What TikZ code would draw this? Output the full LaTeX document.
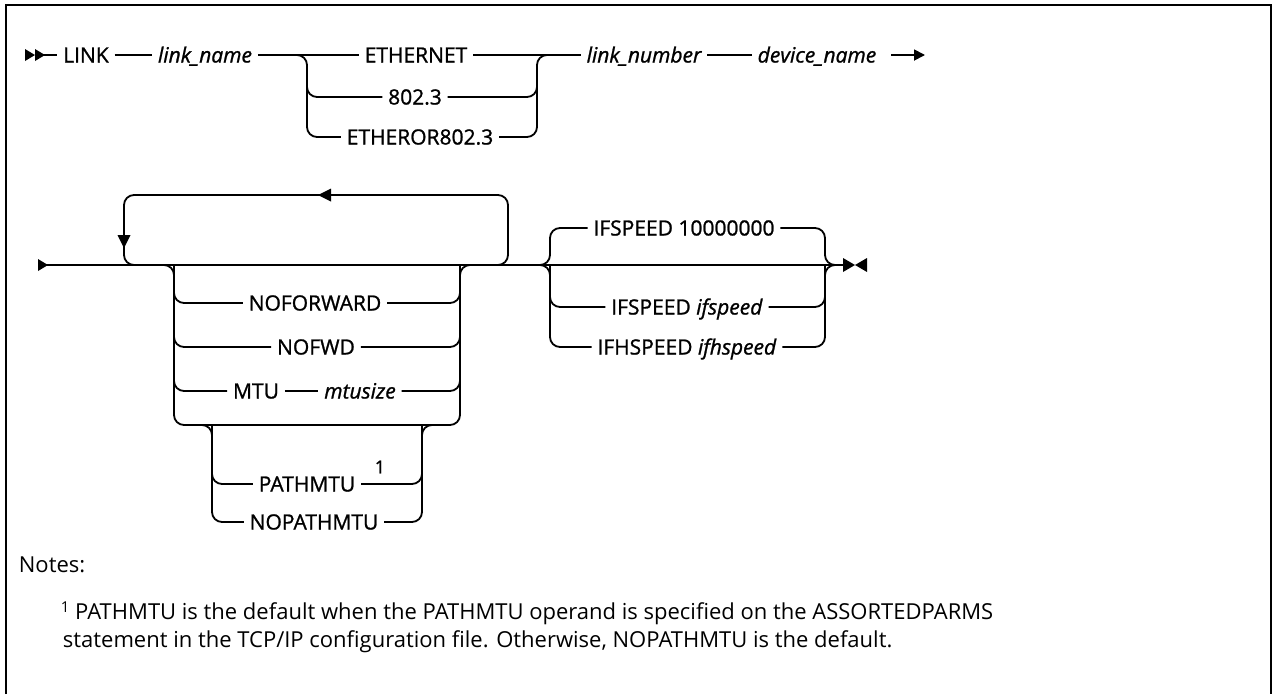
\documentclass[tikz,border=0pt]{standalone}
\usepackage{fontspec}
\setmainfont{Open Sans}
\newfontfamily\lblfont{Open Sans}[FakeBold=1.1]
\usetikzlibrary{calc,arrows.meta}
\begin{document}
\begin{tikzpicture}[x=1pt,y=-1pt,line width=1.8pt,
  lbl/.style={font=\lblfont\fontsize{21}{25}\selectfont,inner xsep=5pt,inner ysep=0pt,text height=15pt,text depth=0pt},
  it/.style={font=\lblfont\fontsize{21}{25}\selectfont\itshape},
  rc/.style={rounded corners=10pt},
  notetext/.style={font=\fontsize{22}{28}\selectfont,inner sep=0pt,anchor=base west}]
\useasboundingbox (0,0) rectangle (1273,694);
% frame
\draw[line width=2.2pt] (6,694) -- (6,5) -- (1271,5) -- (1271,694);

% ---------- row 1 ----------
\coordinate (r1s) at (25,55);
\coordinate (r1e) at (925,55);
\coordinate (b1L) at (307,55);
\coordinate (b1R) at (537,55);
\node[lbl] (link) at (86,55) {LINK};
\node[lbl,it] (lname) at (205,55) {link\_name};
\node[lbl] (eth) at (416,55) {ETHERNET};
\node[lbl] (e8023) at (415,97) {802.3};
\node[lbl] (eor) at (420,137) {ETHEROR802.3};
\node[lbl,it] (lnum) at (644,55) {link\_number};
\node[lbl,it] (dname) at (817,55) {device\_name};

\fill ($(r1s)+(0,-6)$) -- ($(r1s)+(10,0)$) -- ($(r1s)+(0,6)$) -- cycle;
\fill ($(r1s)+(10,-6)$) -- ($(r1s)+(20,0)$) -- ($(r1s)+(10,6)$) -- cycle;
\draw ($(r1s)+(18,0)$) -- (link.west);
\draw (link.east) -- (lname.west);
\draw (lname.east) -- (eth.west);
\draw (eth.east) -- (lnum.west);
\draw (lnum.east) -- (dname.west);
\draw[rc] ($(b1L)+(-10,0)$) -| (eor.west -| b1L) -- (eor.west);
\draw[rc] ($(e8023.west -| b1L)+(0,-20)$) |- (e8023.west);
\draw[rc] (eor.east) -| (b1R) -- ($(b1R)+(10,0)$);
\draw[rc] (e8023.east) -| ($(b1R)+(0,20)$);
\draw[-{Triangle[length=11pt,width=11pt]}] ($(dname.east)+(9,0)$) -- (r1e);

% ---------- row 2 ----------
\coordinate (r2s) at (38,265);
\coordinate (r2e) at (843,265);
\coordinate (oL) at (174,265);
\coordinate (oR) at (460,265);
\coordinate (oBL) at (174,425);
\coordinate (pL) at (212,425);
\coordinate (pR) at (422,425);
\coordinate (iL) at (550,265);
\coordinate (iR) at (825,265);

\fill ($(r2s)+(0,-6)$) -- ($(r2s)+(10,0)$) -- ($(r2s)+(0,6)$) -- cycle;
\draw ($(r2s)+(8,0)$) -- (r2e);
% end marker
\fill (r2e) ++(0,-7) -- ++(12,7) -- ++(-12,7) -- cycle;
\fill ($(r2e)+(24,-7)$) -- ($(r2e)+(12,0)$) -- ($(r2e)+(24,7)$) -- cycle;

% repeat loop
\draw[rc] (134,265) -| (124,195) -| (508,265) -- (498,265);
\fill (318,195) -- (331,188.5) -- (331,201.5) -- cycle;
\fill (124,248) -- (117.5,235) -- (130.5,235) -- cycle;

% options
\node[lbl] (nofwdA) at (315,303) {NOFORWARD};
\node[lbl] (nofwd) at (316,347) {NOFWD};
\node[lbl] (mtu) at (256,391) {MTU};
\node[lbl,it] (mtusize) at (360,391) {mtusize};
\draw[rc] ($(oL)+(-10,0)$) -| (oBL) -| (oR) -- ($(oR)+(10,0)$);
\draw[rc] (oL) |- (nofwdA.west);
\draw[rc] (nofwdA.east) -| (oR);
\draw[rc] (oL) |- (nofwd.west);
\draw[rc] (nofwd.east) -| (oR);
\draw[rc] (oL) |- (mtu.west);
\draw (mtu.east) -- (mtusize.west);
\draw[rc] (mtusize.east) -| (oR);

% nested PATHMTU group
\node[lbl] (path) at (307,484) {PATHMTU};
\node[font=\lblfont\fontsize{18}{20}\selectfont,inner sep=0pt] (sup) at (380,467) {1};
\node[lbl] (nopath) at (314,522) {NOPATHMTU};
\draw[rc] ($(pL)+(-10,0)$) -| (nopath.west -| pL) -- (nopath.west);
\draw[rc] (pL) |- (path.west);
\draw[rc] (nopath.east) -| (pR) -- ($(pR)+(10,0)$);
\draw[rc] (path.east) -| (pR);

% IFSPEED group
\node[lbl] (ifs1) at (684,228) {IFSPEED 10000000};
\node[lbl] (ifs2) at (687,307) {IFSPEED \textit{ifspeed}};
\node[lbl] (ifh) at (687,347) {IFHSPEED \textit{ifhspeed}};
\draw[rc] ($(iL)+(-10,0)$) -| (ifs1.west -| iL) -- (ifs1.west);
\draw[rc] ($(iL)+(-10,0)$) -| (ifh.west -| iL) -- (ifh.west);
\draw[rc] (iL) |- (ifs2.west);
\draw[rc] (ifs1.east) -| (iR) -- ($(iR)+(10,0)$);
\draw[rc] (ifh.east) -| (iR) -- ($(iR)+(10,0)$);
\draw[rc] (ifs2.east) -| (iR);

% ---------- notes ----------
\node[notetext] (notes) at (18,572) {Notes:};
\node[notetext] (fn1) at (60,619) {\raisebox{7pt}{\fontsize{15}{16}\selectfont 1} PATHMTU is the default when the PATHMTU operand is specified on the ASSORTEDPARMS};
\node[notetext] (fn2) at (62,647) {statement in the TCP/IP configuration file. Otherwise, NOPATHMTU is the default.};
\end{tikzpicture}
\end{document}
